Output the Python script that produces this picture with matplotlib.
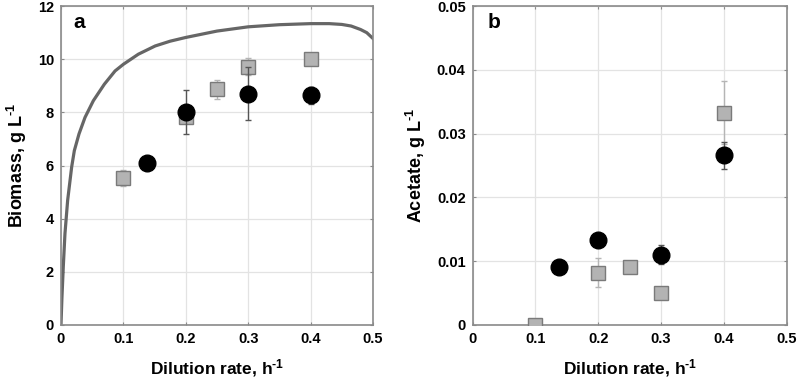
import numpy as np
import matplotlib.pyplot as plt

plt.rcParams['font.family'] = ['Liberation Sans', 'DejaVu Sans']
plt.rcParams['font.weight'] = 'bold'
plt.rcParams['mathtext.fontset'] = 'custom'
plt.rcParams['mathtext.rm'] = 'Liberation Sans:bold'
plt.rcParams['mathtext.bf'] = 'Liberation Sans:bold'
plt.rcParams['mathtext.default'] = 'bf'

# Model curve (panel a)
model_D = [0.0, 0.0015, 0.0037, 0.0064, 0.0107, 0.0171, 0.0214, 0.0289, 0.0385,
           0.0519, 0.0695, 0.0867, 0.1, 0.124, 0.151, 0.175, 0.2, 0.25, 0.3,
           0.35, 0.4, 0.43, 0.45, 0.465, 0.48, 0.49, 0.5]
model_X = [0.0, 1.0, 2.19, 3.44, 4.69, 5.94, 6.56, 7.19, 7.81,
           8.44, 9.06, 9.56, 9.81, 10.19, 10.5, 10.68, 10.82, 11.06, 11.22,
           11.3, 11.34, 11.34, 11.31, 11.25, 11.12, 11.0, 10.78]

# Experimental set 1 (grey squares)
sq_D = [0.1, 0.2, 0.25, 0.3, 0.4]
sq_biomass = [5.54, 7.84, 8.87, 9.71, 10.0]
sq_biomass_err = [0.31, 0.0, 0.36, 0.32, 0.05]
sq_acetate = [0.0, 0.0082, 0.00914, 0.00506, 0.0333]
sq_acetate_err = [0.0, 0.0023, 0.0, 0.0, 0.005]

# Experimental set 2 (black circles)
ci_D = [0.1375, 0.2, 0.3, 0.4]
ci_biomass = [6.09, 8.02, 8.71, 8.65]
ci_biomass_err = [0.0, 0.83, 0.98, 0.32]
ci_acetate = [0.00914, 0.01332, 0.01102, 0.0266]
ci_acetate_err = [0.0, 0.0009, 0.0015, 0.0021]

x_ticks = [0, 0.1, 0.2, 0.3, 0.4, 0.5]
x_ticklabels = ['0', '0.1', '0.2', '0.3', '0.4', '0.5']
acetate_ticks = [0, 0.01, 0.02, 0.03, 0.04, 0.05]
acetate_ticklabels = ['0', '0.01', '0.02', '0.03', '0.04', '0.05']


def style_axes(ax):
    ax.set_xlim(0, 0.5)
    ax.set_xticks(x_ticks)
    ax.set_xticklabels(x_ticklabels)
    ax.grid(True, color='#e3e3e3', linewidth=0.9)
    ax.set_axisbelow(True)
    for sp in ax.spines.values():
        sp.set_color('#8a8a8a')
        sp.set_linewidth(1.2)
    ax.tick_params(direction='in', length=2.5, color='#8a8a8a', labelsize=10.5,
                   top=True, right=True, pad=5)
    for lab in ax.get_xticklabels() + ax.get_yticklabels():
        lab.set_fontweight('bold')
    ax.set_xlabel(r'Dilution rate, h$^{\text{-1}}$', fontsize=12.5, fontweight='bold', labelpad=8)


def draw_points(ax, sq_y, sq_err, ci_y, ci_err):
    ax.errorbar(sq_D, sq_y, yerr=sq_err, fmt='none', ecolor='#b5b5b5',
                elinewidth=1.0, capsize=2.5, zorder=3)
    ax.plot(sq_D, sq_y, 's', ms=10, mfc='#b3b3b3', mec='#7a7a7a', mew=1.0, zorder=4)
    ax.errorbar(ci_D, ci_y, yerr=ci_err, fmt='none', ecolor='#555555',
                elinewidth=1.0, capsize=2.5, zorder=5)
    ax.plot(ci_D, ci_y, 'o', ms=12, mfc='black', mec='black', zorder=6)


fig = plt.figure(figsize=(7.97, 3.81), dpi=100)
ax1 = fig.add_axes([0.0765, 0.147, 0.3915, 0.837])
ax2 = fig.add_axes([0.593, 0.147, 0.394, 0.837])

# Panel a
ax1.plot(model_D, model_X, color='#666666', linewidth=2.3, zorder=2)
draw_points(ax1, sq_biomass, sq_biomass_err, ci_biomass, ci_biomass_err)
ax1.set_ylim(0, 12)
ax1.set_yticks(np.arange(0, 13, 2))
style_axes(ax1)
ax1.set_ylabel(r'Biomass, g L$^{\text{-1}}$', fontsize=13, fontweight='bold', labelpad=6)
ax1.text(0.04, 0.948, 'a', transform=ax1.transAxes, fontsize=15, fontweight='bold',
         va='center')

# Panel b
draw_points(ax2, sq_acetate, sq_acetate_err, ci_acetate, ci_acetate_err)
ax2.set_ylim(0, 0.05)
ax2.set_yticks(acetate_ticks)
ax2.set_yticklabels(acetate_ticklabels)
style_axes(ax2)
ax2.set_ylabel(r'Acetate, g L$^{\text{-1}}$', fontsize=13, fontweight='bold', labelpad=6)
ax2.text(0.047, 0.948, 'b', transform=ax2.transAxes, fontsize=15, fontweight='bold',
         va='center')

fig.savefig('out.png', dpi=100)
